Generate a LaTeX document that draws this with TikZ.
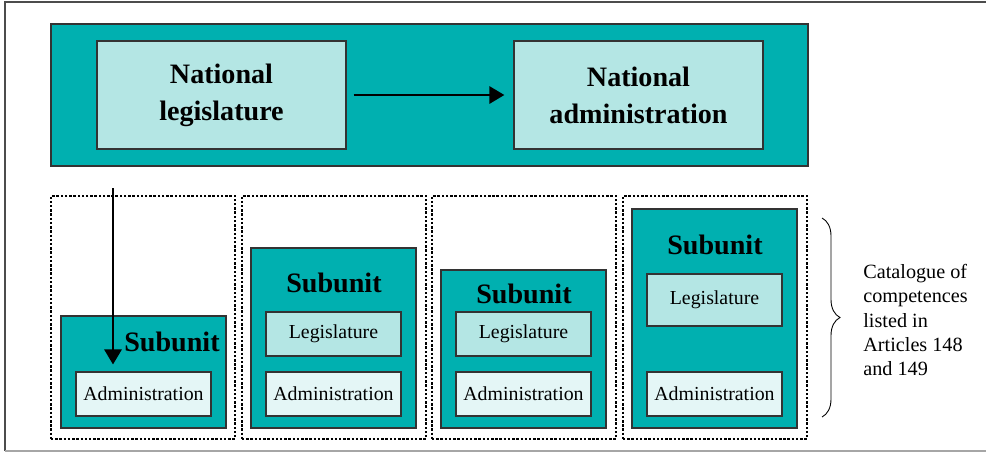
\documentclass[tikz,border=0pt]{standalone}
\usepackage{fontspec}
\setmainfont{Liberation Serif}
\usetikzlibrary{arrows.meta,decorations.pathreplacing}
\definecolor{unitteal}{RGB}{0,176,176}
\definecolor{legteal}{RGB}{180,230,228}
\definecolor{admteal}{RGB}{228,246,246}
\begin{document}
\begin{tikzpicture}[x=0.02cm,y=-0.02cm,>={Triangle[length=0.3cm,width=0.34cm]},
	unit/.style={draw=black!80,fill=unitteal,line width=0.7pt,inner sep=0pt},
	natbox/.style={draw=black!80,fill=legteal,line width=0.7pt,inner sep=0pt,minimum width=4.98cm,minimum height=2.16cm,align=center,font=\fontsize{16}{21}\selectfont\bfseries},
	legbox/.style={draw=black!80,fill=legteal,line width=0.6pt,inner sep=0pt,minimum width=2.7cm,minimum height=0.88cm,font=\fontsize{11.3}{13}\selectfont},
	admbox/.style={legbox,fill=admteal},
	slot/.style={draw,dash pattern=on 1.4pt off 1pt,line width=0.7pt,minimum width=3.68cm,minimum height=4.86cm,inner sep=0pt},
	sublabel/.style={font=\fontsize{16}{18}\selectfont\bfseries,inner sep=0pt}]
	\useasboundingbox (0,0) rectangle (986,454);
	%		outer frame
	\draw[black!70,line width=0.8pt](5,451)--(5,2)--(990,2);
	\draw[black!35,line width=0.8pt](5,451)--(990,451);
	% national level
	\node[unit,minimum width=15.14cm,minimum height=2.84cm] (nation) at (429.5,95) {};
	\node[natbox] (natleg) at (221.5,95) {National\\legislature};
	\node[natbox] (natadm) at (638.5,95) {National\\administration};
	\draw[->,line width=1.6pt,shorten <=0.14cm,shorten >=0.18cm](natleg)--(natadm);
	% slots
	\foreach \i/\x in {1/143,2/334,3/524,4/715}
		\node[slot] (slot\i) at (\x,317.5) {};
	% subunits
	\node[unit,minimum width=3.3cm,minimum height=2.24cm] (sub1) at (143.5,372) {};
	\node[unit,minimum width=3.3cm,minimum height=3.6cm] (sub2) at (333.5,338) {};
	\node[unit,minimum width=3.3cm,minimum height=3.16cm] (sub3) at (523.5,349) {};
	\node[unit,minimum width=3.3cm,minimum height=4.38cm] (sub4) at (714.5,318.5) {};
	\node[sublabel] (lab1) at (172,342) {Subunit};
	\node[sublabel] (lab2) at (334,283) {Subunit};
	\node[sublabel] (lab3) at (524,294) {Subunit};
	\node[sublabel] (lab4) at (715,245) {Subunit};
	\node[legbox] (leg2) at (333.5,334) {Legislature};
	\node[legbox] (leg3) at (523.5,334) {Legislature};
	\node[legbox,minimum height=1.04cm] (leg4) at (714.5,300) {Legislature};
	\foreach \i/\x in {1/143.5,2/333.5,3/523.5,4/714.5}
		\node[admbox] (adm\i) at (\x,394) {Administration};
	% national law down to the first subunit
	\coordinate (down) at (113,188);
	\draw[->,line width=1.6pt,shorten >=0.14cm](down)--(down|-adm1.north);
	% brace and catalogue
	\coordinate (btop) at (822,218);
	\coordinate (bbot) at (822,417);
	\draw[decorate,decoration={brace,amplitude=0.36cm},line width=0.5pt](btop)--(bbot);
	\node[anchor=west,align=left,inner sep=0pt,font=\fontsize{11.5}{13.9}\selectfont] (cat) at (863,320) {Catalogue of\\competences\\listed in\\Articles 148\\and 149};
\end{tikzpicture}
\end{document}
